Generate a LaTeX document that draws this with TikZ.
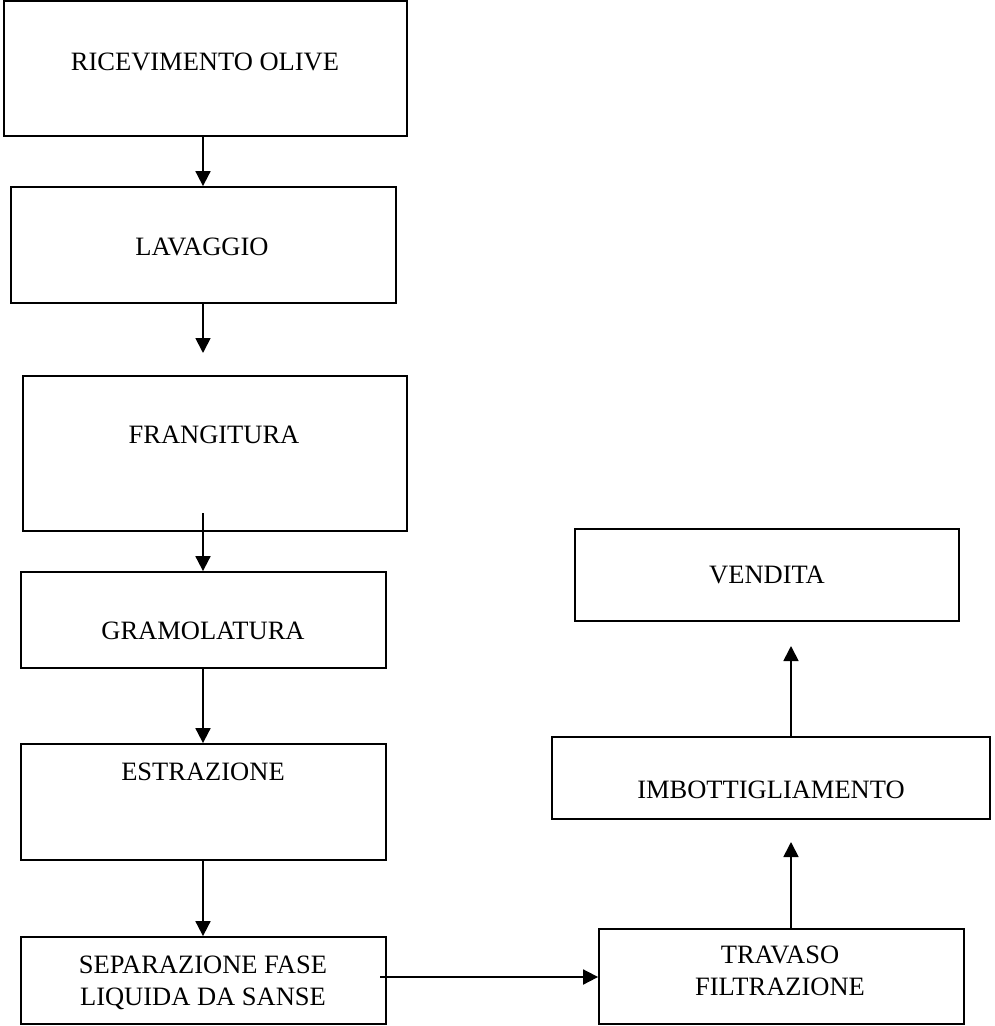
\documentclass[tikz,border=0pt]{standalone}
\usepackage{fontspec}
\setmainfont{Liberation Serif}
\usetikzlibrary{arrows.meta}

\begin{document}
\begin{tikzpicture}[x=1pt,y=-1pt,
  stepbox/.style={draw=black,line width=1.8pt,rectangle,inner sep=0pt},
  lbl/.style={inner sep=0pt,align=center,text depth=0pt,
    font=\fontsize{26.5}{32}\selectfont},
  flow/.style={line width=1.8pt,-{Triangle[length=15pt,width=15pt]}},
  plain/.style={line width=1.8pt}]

% canvas
\useasboundingbox (0,0) rectangle (994,1026);

% boxes: (left,top) rectangle (right,bottom)
\node[stepbox,minimum width=403pt,minimum height=135pt] (b1) at (205.5,68.5) {};
\node[stepbox,minimum width=385pt,minimum height=116pt] (b2) at (203.5,245) {};
\node[stepbox,minimum width=384pt,minimum height=155pt] (b3) at (215,453.5) {};
\node[stepbox,minimum width=365pt,minimum height=96pt]  (b4) at (203.5,620) {};
\node[stepbox,minimum width=365pt,minimum height=116pt] (b5) at (203.5,802) {};
\node[stepbox,minimum width=365pt,minimum height=87pt]  (b6) at (203.5,980.5) {};
\node[stepbox,minimum width=365pt,minimum height=95pt]  (b7) at (781.5,976.5) {};
\node[stepbox,minimum width=438pt,minimum height=82pt]  (b8) at (771,778) {};
\node[stepbox,minimum width=384pt,minimum height=92pt]  (b9) at (767,575) {};

% labels
\node[lbl] (t1) at (205,62)  {RICEVIMENTO OLIVE};
\node[lbl] (t2) at (202,247) {LAVAGGIO};
\node[lbl] (t3) at (214,435) {FRANGITURA};
\node[lbl] (t4) at (203,631) {GRAMOLATURA};
\node[lbl] (t5) at (203,772) {ESTRAZIONE};
\node[lbl] (t6) at (203,981) {SEPARAZIONE FASE\\LIQUIDA DA SANSE};
\node[lbl] (t7) at (780,971) {TRAVASO\\FILTRAZIONE};
\node[lbl] (t8) at (771,790) {IMBOTTIGLIAMENTO};
\node[lbl] (t9) at (767,575) {VENDITA};

% connector guides
\coordinate (lx) at (203,0);
\coordinate (rx) at (791,0);
\coordinate (a2end) at (203,353);
\coordinate (a3start) at (203,513);
\coordinate (a6start) at (380,977);
\coordinate (a7end) at (791,842);
\coordinate (a8end) at (791,646);

% left column
\draw[flow] (lx |- b1.south) -- (lx |- b2.north);
\draw[flow] (lx |- b2.south) -- (a2end);
\draw[flow] (a3start) -- (lx |- b4.north);
\draw[flow] (lx |- b4.south) -- (lx |- b5.north);
\draw[flow] (lx |- b5.south) -- (lx |- b6.north);

% across and up the right column
\draw[flow] (a6start) -- (a6start -| b7.west);
\draw[flow] (rx |- b7.north) -- (a7end);
\draw[flow] (rx |- b8.north) -- (a8end);
\end{tikzpicture}
\end{document}
